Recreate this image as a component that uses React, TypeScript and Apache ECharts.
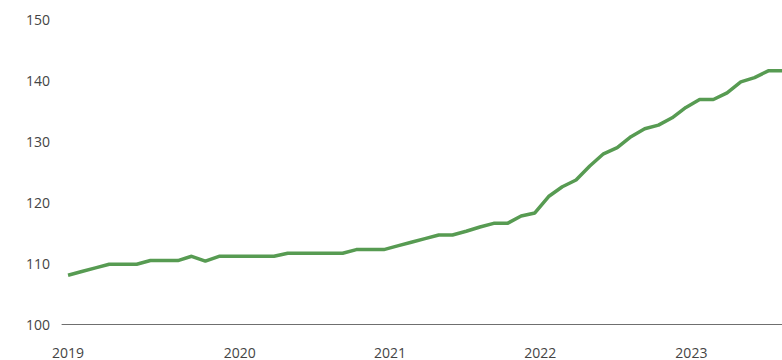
import React, { useEffect, useRef } from "react";
import * as echarts from "echarts";

// Monthly index values, Jan 2019 .. May 2023
const months: string[] = [];
for (let y = 2019; y <= 2023; y++) {
  for (let m = 1; m <= 12; m++) {
    if (y === 2023 && m > 5) break;
    months.push(`${y}-${String(m).padStart(2, "0")}`);
  }
}

const values = [
  108.0, 108.6, 109.2, 109.8, 109.8, 109.8, 110.4, 110.4, 110.4, 111.1,
  110.3, 111.1, 111.1, 111.1, 111.1, 111.1, 111.6, 111.6, 111.6, 111.6,
  111.6, 112.2, 112.2, 112.2, 112.8, 113.4, 114.0, 114.6, 114.6, 115.2,
  115.9, 116.5, 116.5, 117.7, 118.2, 120.9, 122.5, 123.6, 125.9, 127.9,
  128.9, 130.7, 132.0, 132.6, 133.8, 135.5, 136.8, 136.8, 137.9, 139.7,
  140.4, 141.5, 141.5,
];

const yearLabels = ["2019", "2020", "2021", "2022", "2023"];
const yearLabelAt = [0, 12.5, 23.45, 34.4, 45.4];

const yTicks = [100, 110, 120, 130, 140, 150];

export default function App() {
  const ref = useRef<HTMLDivElement>(null);
  useEffect(() => {
    if (!ref.current) return;
    const chart = echarts.init(ref.current, undefined, { renderer: "svg" });
    const font = "'Open Sans', 'Noto Sans', sans-serif";
    chart.setOption({
      animation: false,
      grid: { left: 62, right: 0, top: 19, bottom: 36, containLabel: false },
      xAxis: {
        type: "value",
        min: -0.44,
        max: values.length - 1,
        axisLine: { show: true, lineStyle: { color: "#6f6f6f", width: 1 } },
        axisTick: { show: false },
        splitLine: { show: false },
        axisLabel: {
          customValues: yearLabelAt,
          formatter: (v: number) => {
            const idx = yearLabelAt.findIndex((p) => Math.abs(p - v) < 0.01);
            return idx >= 0 ? yearLabels[idx] : "";
          },
          color: "#444",
          fontSize: 14,
          fontFamily: font,
          margin: 21,
          showMinLabel: true,
          showMaxLabel: true,
        },
      },
      yAxis: {
        type: "value",
        min: yTicks[0],
        max: yTicks[yTicks.length - 1],
        interval: 10,
        axisLine: { show: false },
        axisTick: { show: false },
        splitLine: { show: false },
        axisLabel: {
          color: "#444",
          fontSize: 14,
          fontFamily: font,
          margin: 12,
        },
      },
      series: [
        {
          type: "line",
          data: values.map((v, i) => [i, v]),
          name: "Index",
          showSymbol: false,
          symbol: "none",
          lineStyle: { color: "#579b52", width: 3.5 },
          z: 3,
        },
      ],
    });
    return () => chart.dispose();
  }, []);
  return <div ref={ref} style={{ width: 782, height: 360, position: "absolute", left: 0, top: 0 }} />;
}
